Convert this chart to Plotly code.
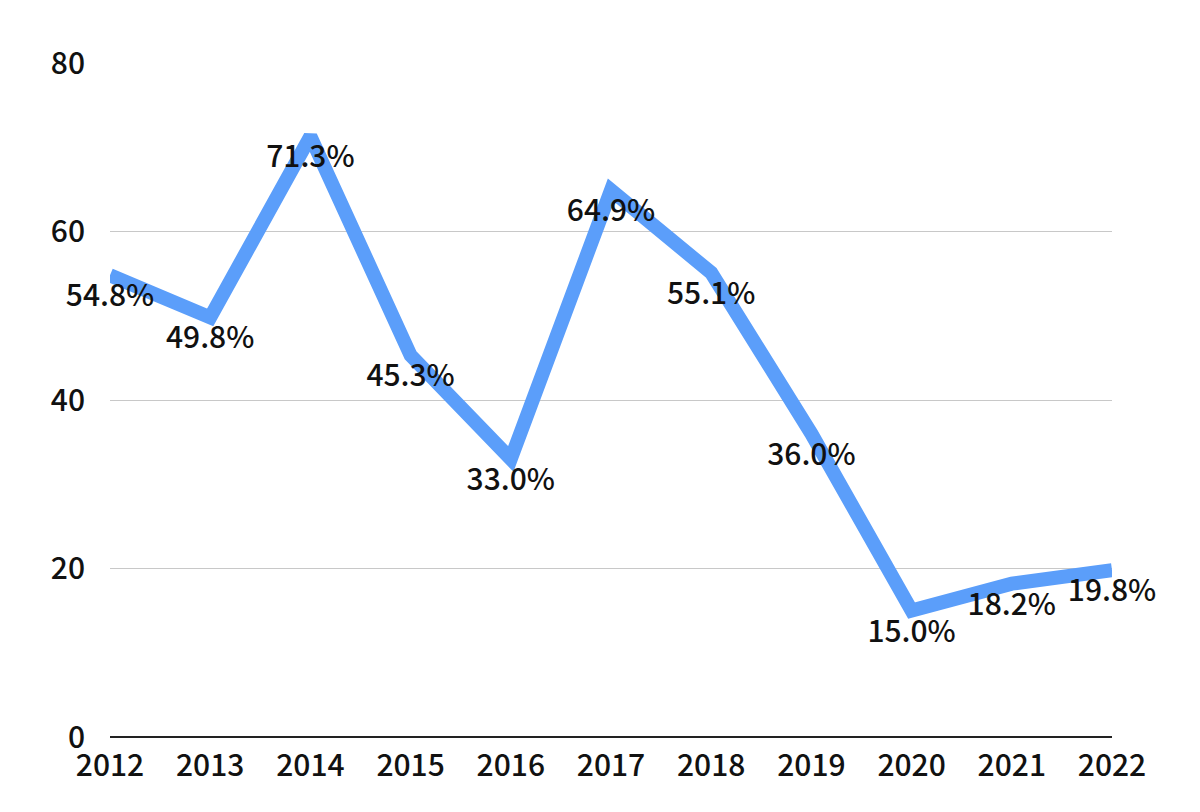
import plotly.graph_objects as go

years = [2012, 2013, 2014, 2015, 2016, 2017, 2018, 2019, 2020, 2021, 2022]
values = [54.8, 49.8, 71.3, 45.3, 33.0, 64.9, 55.1, 36.0, 15.0, 18.2, 19.8]
y_ticks = [0, 20, 40, 60, 80]

FONT = "Noto Sans CJK JP"

fig = go.Figure()
fig.add_trace(go.Scatter(
    x=years, y=values, mode="lines",
    line=dict(color="#5B9EFA", width=14),
    hoverinfo="skip", showlegend=False,
))
fig.add_trace(go.Scatter(
    x=years, y=values, mode="markers+text",
    marker=dict(size=12, color="rgba(0,0,0,0)"),
    text=[f"{v:.1f}%" for v in values],
    textposition="bottom center",
    textfont=dict(family=FONT, size=30, color="#111111", weight=500),
    cliponaxis=False, showlegend=False, hoverinfo="skip",
))

fig.update_layout(
    width=1200, height=812,
    margin=dict(l=102, r=96, t=55, b=83, autoexpand=False),
    plot_bgcolor="white", paper_bgcolor="white",
    font=dict(family=FONT, size=30, color="#111111", weight=500),
    xaxis=dict(
        range=[2012, 2022], tickvals=years, ticktext=[str(y) for y in years],
        showgrid=False, zeroline=False, showline=False, ticks="",
        ticklabelstandoff=8, automargin=False,
    ),
    yaxis=dict(
        range=[0, 80], tickvals=y_ticks,
        showgrid=True, gridcolor="#C8C8C8", gridwidth=1,
        zeroline=True, zerolinecolor="#222222", zerolinewidth=2,
        showline=False, ticks="", ticklabelstandoff=24, automargin=False,
    ),
)

fig.write_html("out.html")
